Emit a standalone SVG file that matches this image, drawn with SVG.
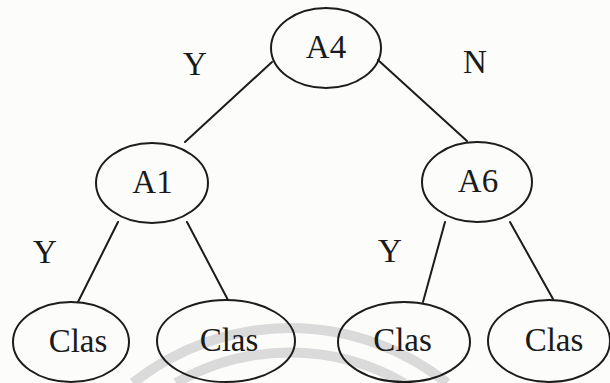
<svg xmlns="http://www.w3.org/2000/svg" width="610" height="383" viewBox="0 0 610 383">
  <style>
    .node ellipse { fill: none; stroke: #1c1c1c; stroke-width: 2; }
    .node text, .label { font-family: "Liberation Serif", "Times New Roman", serif; font-size: 33px; fill: #1a1a1a; text-anchor: middle; }
    #connectors line { stroke: #1c1c1c; stroke-width: 2; stroke-linecap: round; }
    .band { fill: none; stroke: #dadada; stroke-width: 10; }
  </style>
  <rect width="610" height="383" fill="#fcfcfa"/>

  <!-- faint background bands -->
  <g id="backdrop">
    <path class="band" d="M 133 383 A 252 252 0 0 1 447 383"/>
    <path class="band" d="M 176 383 A 228 228 0 0 1 404 383"/>
  </g>

  <!-- tree edges -->
  <g id="connectors">
    <line x1="272" y1="62" x2="185" y2="142"/>
    <line x1="378" y1="60" x2="467" y2="141"/>
    <line x1="118" y1="222" x2="78" y2="302"/>
    <line x1="187" y1="222" x2="228" y2="300"/>
    <line x1="445" y1="222" x2="423" y2="302"/>
    <line x1="510" y1="222" x2="553" y2="299"/>
  </g>

  <!-- branch labels -->
  <g id="edge-labels">
    <text class="label" x="195" y="75">Y</text>
    <text class="label" x="475" y="73">N</text>
    <text class="label" x="45" y="263">Y</text>
    <text class="label" x="390" y="262">Y</text>
  </g>

  <g id="node-A4" class="node">
    <ellipse cx="326" cy="48" rx="55" ry="40"/>
    <text x="326" y="58">A4</text>
  </g>
  <g id="node-A1" class="node">
    <ellipse cx="152" cy="183" rx="56" ry="40"/>
    <text x="152.5" y="193">A1</text>
  </g>
  <g id="node-A6" class="node">
    <ellipse cx="477" cy="182" rx="55" ry="40"/>
    <text x="478" y="192">A6</text>
  </g>
  <g id="node-clas1" class="node">
    <ellipse cx="71" cy="342" rx="58" ry="40"/>
    <text x="78" y="352">Clas</text>
  </g>
  <g id="node-clas2" class="node">
    <ellipse cx="226" cy="341" rx="69" ry="41"/>
    <text x="229" y="351">Clas</text>
  </g>
  <g id="node-clas3" class="node">
    <ellipse cx="404" cy="342" rx="66" ry="40"/>
    <text x="402.5" y="351">Clas</text>
  </g>
  <g id="node-clas4" class="node">
    <ellipse cx="549" cy="341" rx="61" ry="41"/>
    <text x="554" y="351">Clas</text>
  </g>
</svg>
